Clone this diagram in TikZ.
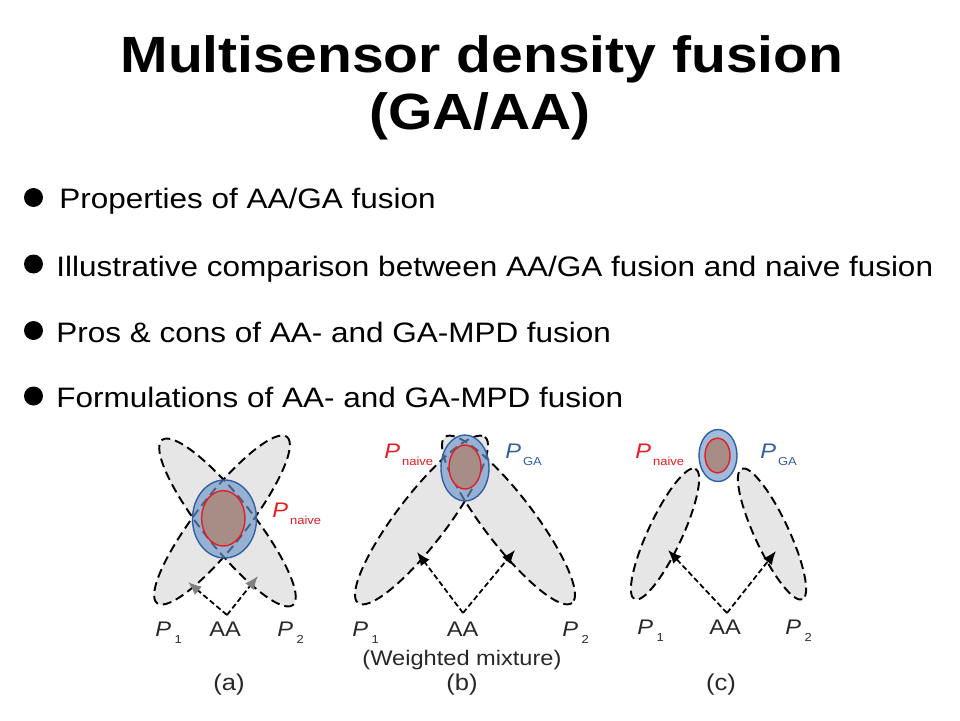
\documentclass[tikz,border=0pt]{standalone}
\usepackage{fontspec}
\setmainfont{Liberation Sans}[FakeStretch=1.12]
\usetikzlibrary{arrows.meta,positioning}
\definecolor{blobgray}{RGB}{230,230,230}
\definecolor{gablue}{RGB}{110,150,200}
\definecolor{gaedge}{RGB}{50,95,165}
\definecolor{naivefill}{RGB}{168,140,134}
\definecolor{naivered}{RGB}{228,30,36}
\definecolor{labgray}{RGB}{40,40,40}

% P with a lowered subscript
\newcommand{\psub}[2][0.04cm]{\textit{P}\kern#1\raisebox{-0.14cm}{\fontsize{6.6}{7}\selectfont #2}}

\begin{document}
\begin{tikzpicture}[x=0.02cm,y=-0.02cm,every node/.style={inner sep=0pt},
    blobline/.style={draw=black,line width=1.1pt,dash pattern=on 0.18cm off 0.1cm},
    gaell/.style={fill=gablue,fill opacity=0.65,draw=gaedge,line width=0.8pt},
    naiveell/.style={fill=naivefill,draw=naivered,line width=0.8pt},
    aarrow/.style={-{Latex[length=2.7mm,width=2.2mm]},line width=1pt,
                   dash pattern=on 0.11cm off 0.06cm},
    lab/.style={anchor=base,font=\fontsize{12}{14}\selectfont,text=labgray},
    plab/.style={anchor=base west,font=\fontsize{12}{14}\selectfont,text=labgray},
    bul/.style={circle,fill=black,minimum size=0.38cm},
    bultext/.style={anchor=base west,font=\fontsize{16}{19}\selectfont}]
  \useasboundingbox (0,0) rectangle (960,720);

  % title
  \node[anchor=base,font=\fontsize{29}{35}\selectfont\bfseries] (title1) at (482,72) {Multisensor density fusion};
  \node[anchor=base,font=\fontsize{29}{35}\selectfont\bfseries] (title2) at (480,129) {(GA/AA)};

  % bullets
  \node[bul] (b1) at (33.5,197.5) {};
  \node[bul] (b2) at (33.5,264) {};
  \node[bul] (b3) at (33.5,330.5) {};
  \node[bul] (b4) at (33.5,396) {};
  \node[bultext] (t1) at (59,208) {Properties of AA/GA fusion};
  \node[bultext] (t2) at (56,276) {Illustrative comparison between AA/GA fusion and naive fusion};
  \node[bultext] (t3) at (56,342) {Pros \& cons of AA- and GA-MPD fusion};
  \node[bultext] (t4) at (56,407) {Formulations of AA- and GA-MPD fusion};

  % (a)
  \fill[blobgray,rotate around={52:(222,520)}] (222,520) ellipse [x radius=105.5,y radius=25];
  \fill[blobgray,rotate around={-51.6:(227.5,522.5)}] (227.5,522.5) ellipse [x radius=105.3,y radius=25];
  \draw[blobline,rotate around={52:(222,520)}] (222,520) ellipse [x radius=105.5,y radius=25];
  \draw[blobline,rotate around={-51.6:(227.5,522.5)}] (227.5,522.5) ellipse [x radius=105.3,y radius=25];
  \draw[gaell] (224.5,519) ellipse [x radius=32,y radius=39];
  \draw[naiveell] (223.3,518.3) ellipse [x radius=21.7,y radius=27.7];
  \coordinate (aaA) at (227,615);
  \coordinate (p1A) at (188,582);
  \coordinate (p2A) at (258,576);
  \draw[aarrow,-{Latex[length=2.7mm,width=2.2mm,color=gray]}] (aaA) -- (p1A);
  \draw[aarrow,-{Latex[length=2.7mm,width=2.2mm,color=gray]}] (aaA) -- (p2A);
  \node[plab] (P1a) at (155,636) {\psub[0.07cm]{1}};
  \node[lab] (AAa) at (225,636) {AA};
  \node[plab] (P2a) at (277,636) {\psub[0.07cm]{2}};
  \node[plab,text=naivered] (Pna) at (272,517) {\psub{naive}};
  \node[anchor=base,font=\fontsize{13}{15}\selectfont,text=labgray] (capa) at (229,690) {(a)};

  % (b)
  \fill[blobgray,rotate around={52.6:(421.5,520)}] (421.5,520) ellipse [x radius=104.5,y radius=25];
  \fill[blobgray,rotate around={-52.6:(508.5,520)}] (508.5,520) ellipse [x radius=104.5,y radius=25];
  \draw[blobline,rotate around={52.6:(421.5,520)}] (421.5,520) ellipse [x radius=104.5,y radius=25];
  \draw[blobline,rotate around={-52.6:(508.5,520)}] (508.5,520) ellipse [x radius=104.5,y radius=25];
  \draw[gaell] (465,468) ellipse [x radius=24,y radius=33];
  \draw[naiveell] (465,467) ellipse [x radius=16,y radius=22];
  \coordinate (aaB) at (463,613);
  \coordinate (p1B) at (417,552);
  \coordinate (p2B) at (515,550);
  \draw[aarrow] (aaB) -- (p1B);
  \draw[aarrow] (aaB) -- (p2B);
  \node[plab] (P1b) at (352,636) {\psub[0.07cm]{1}};
  \node[lab] (AAb) at (462.5,636) {AA};
  \node[plab] (P2b) at (562,636) {\psub[0.07cm]{2}};
  \node[lab] (wmix) at (462,665) {(Weighted mixture)};
  \node[plab,text=naivered] (Pnb) at (384,458) {\psub{naive}};
  \node[plab,text=gaedge] (Pgb) at (505,458) {\psub{GA}};
  \node[anchor=base,font=\fontsize{13}{15}\selectfont,text=labgray] (capb) at (462,690) {(b)};

  % (c)
  \fill[blobgray,rotate around={65:(665,534)}] (665,534) ellipse [x radius=72,y radius=17];
  \fill[blobgray,rotate around={-65:(772,534)}] (772,534) ellipse [x radius=72,y radius=17];
  \draw[blobline,rotate around={65:(665,534)}] (665,534) ellipse [x radius=72,y radius=17];
  \draw[blobline,rotate around={-65:(772,534)}] (772,534) ellipse [x radius=72,y radius=17];
  \draw[gaell] (718,455.5) ellipse [x radius=19,y radius=26];
  \draw[naiveell] (717.5,455.5) ellipse [x radius=12.5,y radius=17.5];
  \coordinate (aaC) at (727,613);
  \coordinate (p1C) at (668,550);
  \coordinate (p2C) at (776,551);
  \draw[aarrow] (aaC) -- (p1C);
  \draw[aarrow] (aaC) -- (p2C);
  \node[plab] (P1c) at (637,634) {\psub[0.07cm]{1}};
  \node[lab] (AAc) at (725,634) {AA};
  \node[plab] (P2c) at (785,634) {\psub[0.07cm]{2}};
  \node[plab,text=naivered] (Pnc) at (635,458) {\psub{naive}};
  \node[plab,text=gaedge] (Pgc) at (760,458) {\psub{GA}};
  \node[anchor=base,font=\fontsize{13}{15}\selectfont,text=labgray] (capc) at (721,690) {(c)};
\end{tikzpicture}
\end{document}
